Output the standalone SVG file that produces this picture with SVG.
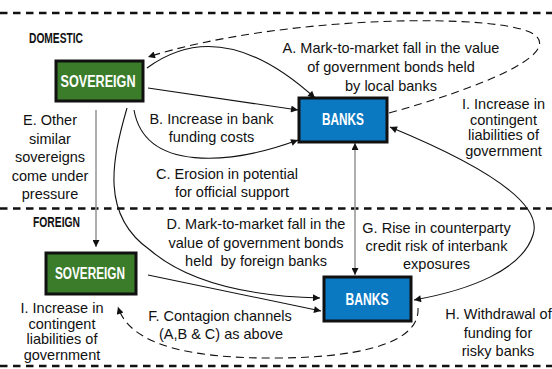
<svg xmlns="http://www.w3.org/2000/svg" width="552" height="369" viewBox="0 0 552 369">
<defs>
<style>
.sep{stroke:#111;stroke-width:2.7;stroke-dasharray:7.5 5.5;fill:none}
.sec{font-family:"Liberation Sans",Arial,sans-serif;font-weight:bold;font-size:14px;fill:#111}
.lbl{font-family:"Liberation Sans",Arial,sans-serif;font-size:14.5px;fill:#111;text-anchor:middle}
.nodetxt{font-family:"Liberation Sans",Arial,sans-serif;font-weight:bold;font-size:16px;fill:#fff;text-anchor:middle}
.sov{fill:#3b7c2b;stroke:#111;stroke-width:3}
.bank{fill:#0a79c2;stroke:#111;stroke-width:3}
.ln{fill:none;stroke:#111;stroke-width:1.1}
.dash{fill:none;stroke:#111;stroke-width:1.1;stroke-dasharray:8 5}
.gray{fill:none;stroke:#9a9a9a;stroke-width:1.6}
</style>
<marker id="ah" viewBox="0 0 10 10" refX="10" refY="5" markerWidth="9" markerHeight="7" markerUnits="userSpaceOnUse" orient="auto-start-reverse">
<path d="M0,0 L10,5 L0,10 z" fill="#111"/>
</marker>
</defs>
<rect width="552" height="369" fill="#fff"/>

<g id="separators">
<line class="sep" x1="0" y1="13" x2="552" y2="13"/>
<line class="sep" x1="0" y1="208.5" x2="552" y2="208.5"/>
<line class="sep" x1="0" y1="366" x2="552" y2="366"/>
<text class="sec" x="29" y="43" textLength="54" lengthAdjust="spacingAndGlyphs">DOMESTIC</text>
<text class="sec" x="33" y="227" textLength="47" lengthAdjust="spacingAndGlyphs">FOREIGN</text>
</g>

<g id="connectors">
<path class="dash" d="M389,113 C480,88 560,55 535,35 C505,12 280,15 148,57" marker-end="url(#ah)"/>
<path class="ln" d="M147,68 C185,40 240,30 315,98" marker-end="url(#ah)"/>
<path class="ln" d="M148,88 L298,110" marker-end="url(#ah)"/>
<path class="ln" d="M134,110 C145,172 230,165 298,140" marker-end="url(#ah)"/>
<path class="ln" d="M127,108 C112,160 100,215 150,250 C185,280 240,296 320,298" marker-end="url(#ah)"/>
<path class="ln" d="M148,275 L321,311" marker-end="url(#ah)"/>
<path class="dash" d="M418,308 C420,340 370,357 280,358 C190,359 130,345 118,307" marker-end="url(#ah)"/>
<path class="ln" d="M390,127 C470,160 545,200 533,235 C522,270 470,290 414,300" marker-start="url(#ah)" marker-end="url(#ah)"/>
<path class="gray" d="M96,110 L96,247" marker-end="url(#ah)"/>
<path class="gray" d="M355,143 L355,275" marker-start="url(#ah)" marker-end="url(#ah)"/>
</g>

<g id="dom-sovereign">
<rect class="sov" x="56" y="61" width="87" height="40"/>
<text class="nodetxt" x="98" y="87" textLength="75" lengthAdjust="spacingAndGlyphs">SOVEREIGN</text>
</g>
<g id="dom-banks">
<rect class="bank" x="299" y="98" width="88" height="44"/>
<text class="nodetxt" x="343" y="125" textLength="42" lengthAdjust="spacingAndGlyphs">BANKS</text>
</g>
<g id="for-sovereign">
<rect class="sov" x="46" y="253" width="90" height="41"/>
<text class="nodetxt" x="90" y="278.5" textLength="70" lengthAdjust="spacingAndGlyphs">SOVEREIGN</text>
</g>
<g id="for-banks">
<rect class="bank" x="324" y="277" width="87" height="44"/>
<text class="nodetxt" x="367" y="304.5" textLength="43" lengthAdjust="spacingAndGlyphs">BANKS</text>
</g>

<g id="labels">
<text class="lbl" x="391" y="53">A. Mark-to-market fall in the value</text>
<text class="lbl" x="391" y="72">of government bonds held</text>
<text class="lbl" x="391" y="91">by local banks</text>

<text class="lbl" x="211.5" y="124">B. Increase in bank</text>
<text class="lbl" x="211.5" y="142">funding costs</text>

<text class="lbl" x="227" y="179">C. Erosion in potential</text>
<text class="lbl" x="232" y="197">for official support</text>

<text class="lbl" x="256" y="229">D. Mark-to-market fall in the</text>
<text class="lbl" x="256" y="248">value of government bonds</text>
<text class="lbl" x="256" y="266" style="white-space:pre">held  by foreign banks</text>

<text class="lbl" x="50" y="125">E. Other</text>
<text class="lbl" x="50" y="143.5">similar</text>
<text class="lbl" x="50" y="162">sovereigns</text>
<text class="lbl" x="50" y="180.5">come under</text>
<text class="lbl" x="50" y="199">pressure</text>

<text class="lbl" x="220" y="321">F. Contagion channels</text>
<text class="lbl" x="221" y="339">(A,B &amp; C) as above</text>

<text class="lbl" x="436.5" y="233">G. Rise in counterparty</text>
<text class="lbl" x="436.5" y="251">credit risk of interbank</text>
<text class="lbl" x="436.5" y="269">exposures</text>

<text class="lbl" x="498.5" y="319">H. Withdrawal of</text>
<text class="lbl" x="498" y="338">funding for</text>
<text class="lbl" x="498" y="356">risky banks</text>

<text class="lbl" x="503.5" y="109">I. Increase in</text>
<text class="lbl" x="503.5" y="124.5">contingent</text>
<text class="lbl" x="503.5" y="140">liabilities of</text>
<text class="lbl" x="503.5" y="155.5">government</text>

<text class="lbl" x="62" y="313">I. Increase in</text>
<text class="lbl" x="62" y="328.5">contingent</text>
<text class="lbl" x="62" y="344">liabilities of</text>
<text class="lbl" x="62" y="359.5">government</text>
</g>
</svg>
